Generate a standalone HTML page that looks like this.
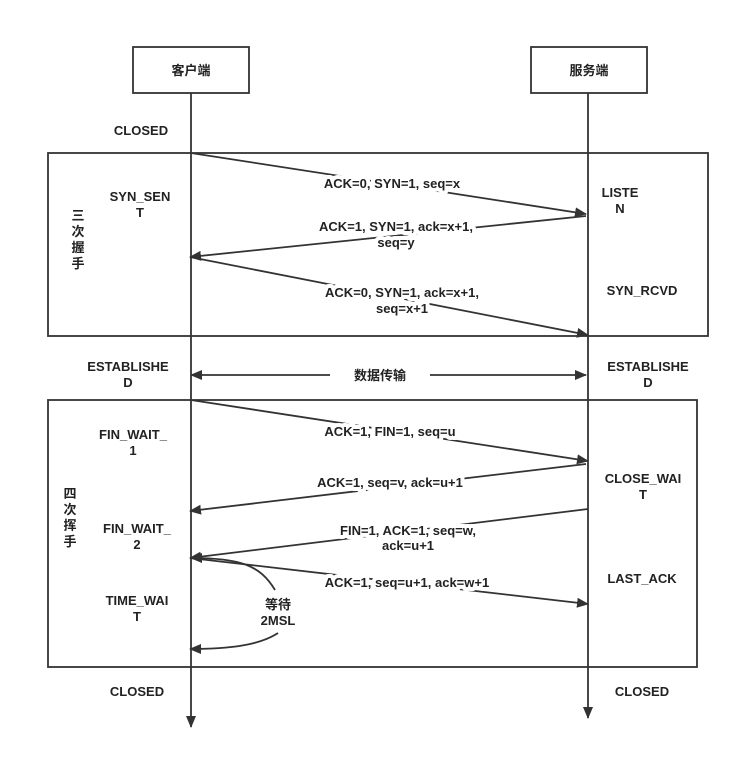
<!DOCTYPE html>
<html><head><meta charset="utf-8"><style>
body{margin:0;background:#fff}
svg text{font-family:"Liberation Sans","Noto Sans CJK SC",sans-serif;font-size:13px;font-weight:bold;fill:#222;text-anchor:middle}
.g{stroke:#fff;stroke-width:8px;paint-order:stroke;stroke-linejoin:round}
</style></head><body>
<svg width="740" height="757" xmlns="http://www.w3.org/2000/svg">
<defs><marker id="a" markerWidth="12" markerHeight="10" refX="11" refY="5" orient="auto" markerUnits="userSpaceOnUse"><path d="M0,0L12,5L0,10z" fill="#333"/></marker></defs>
<g stroke="#333" stroke-width="1.8" fill="none">
<rect x="133" y="47" width="116" height="46"/>
<rect x="531" y="47" width="116" height="46"/>
<rect x="48" y="153" width="660" height="183"/>
<rect x="48" y="400" width="649" height="267"/>
<line x1="191" y1="93" x2="191" y2="727" marker-end="url(#a)"/>
<line x1="588" y1="93" x2="588" y2="718" marker-end="url(#a)"/>
<line x1="191" y1="153" x2="586" y2="214" marker-end="url(#a)"/>
<line x1="586" y1="216" x2="190" y2="257" marker-end="url(#a)"/>
<line x1="190" y1="257" x2="588" y2="335" marker-end="url(#a)"/>
<line x1="330" y1="375" x2="191" y2="375" marker-end="url(#a)"/>
<line x1="430" y1="375" x2="586" y2="375" marker-end="url(#a)"/>
<line x1="191" y1="400" x2="588" y2="461" marker-end="url(#a)"/>
<line x1="586" y1="464" x2="190" y2="511" marker-end="url(#a)"/>
<line x1="588" y1="509" x2="190" y2="558" marker-end="url(#a)"/>
<line x1="190" y1="558" x2="588" y2="604" marker-end="url(#a)"/>
<path d="M275,590 C260,565 240,558 191,558" marker-end="url(#a)"/>
<path d="M278,633 C260,645 230,649 190,649" marker-end="url(#a)"/>
</g>
<text x="191" y="75">客户端</text>
<text x="589" y="75">服务端</text>
<text x="141" y="135">CLOSED</text>
<text x="140" y="201">SYN_SEN</text><text x="140" y="217">T</text>
<text x="620" y="197">LISTE</text><text x="620" y="213">N</text>
<text x="642" y="295">SYN_RCVD</text>
<text x="78" y="220">三</text><text x="78" y="236">次</text><text x="78" y="252">握</text><text x="78" y="268">手</text>
<text class="g" x="392" y="188">ACK=0, SYN=1, seq=x</text>
<text class="g" x="396" y="231">ACK=1, SYN=1, ack=x+1,</text><text class="g" x="396" y="247">seq=y</text>
<text class="g" x="402" y="297">ACK=0, SYN=1, ack=x+1,</text><text class="g" x="402" y="313">seq=x+1</text>
<text x="128" y="371">ESTABLISHE</text><text x="128" y="387">D</text>
<text x="648" y="371">ESTABLISHE</text><text x="648" y="387">D</text>
<text x="380" y="380">数据传输</text>
<text x="133" y="439">FIN_WAIT_</text><text x="133" y="455">1</text>
<text x="70" y="498">四</text><text x="70" y="514">次</text><text x="70" y="530">挥</text><text x="70" y="546">手</text>
<text x="137" y="533">FIN_WAIT_</text><text x="137" y="549">2</text>
<text x="137" y="605">TIME_WAI</text><text x="137" y="621">T</text>
<text x="643" y="483">CLOSE_WAI</text><text x="643" y="499">T</text>
<text x="642" y="583">LAST_ACK</text>
<text class="g" x="390" y="436">ACK=1, FIN=1, seq=u</text>
<text class="g" x="390" y="487">ACK=1,  seq=v, ack=u+1</text>
<text class="g" x="408" y="535">FIN=1, ACK=1, seq=w,</text><text class="g" x="408" y="550">ack=u+1</text>
<text class="g" x="407" y="587">ACK=1, seq=u+1, ack=w+1</text>
<text class="g" x="278" y="609">等待</text><text class="g" x="278" y="625">2MSL</text>
<text x="137" y="696">CLOSED</text>
<text x="642" y="696">CLOSED</text>
</svg>
</body></html>
